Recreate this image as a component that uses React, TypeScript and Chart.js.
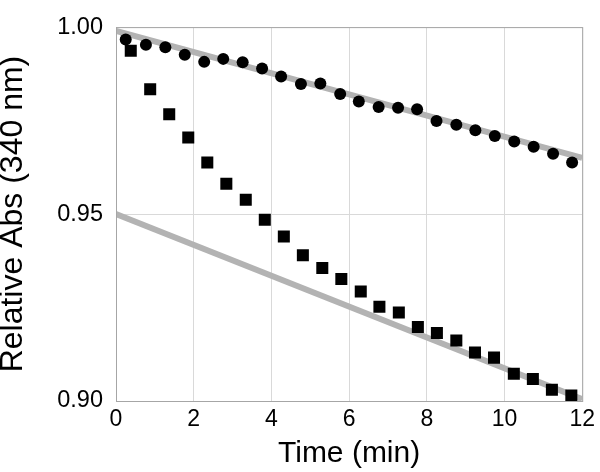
import React, { useEffect, useRef } from "react";
import { Chart, registerables } from "chart.js";

Chart.register(...registerables);

const circleTimes = [0.25, 0.77, 1.27, 1.77, 2.27, 2.76, 3.26, 3.76, 4.25, 4.76, 5.26, 5.77, 6.25, 6.76, 7.26, 7.75, 8.25, 8.76, 9.25, 9.75, 10.25, 10.75, 11.25, 11.74];
const circleValues = [0.9967, 0.9953, 0.9946, 0.9926, 0.9907, 0.9915, 0.9906, 0.9889, 0.9868, 0.9848, 0.9849, 0.9821, 0.9801, 0.9786, 0.9784, 0.978, 0.9749, 0.9739, 0.9724, 0.9709, 0.9694, 0.968, 0.9661, 0.9638];

const squareTimes = [0.38, 0.88, 1.37, 1.86, 2.35, 2.84, 3.34, 3.83, 4.32, 4.81, 5.31, 5.8, 6.3, 6.78, 7.28, 7.77, 8.26, 8.76, 9.24, 9.73, 10.24, 10.73, 11.22, 11.72];
const squareValues = [0.9937, 0.9834, 0.9767, 0.9705, 0.9638, 0.9581, 0.9538, 0.9485, 0.944, 0.939, 0.9356, 0.9326, 0.9293, 0.9252, 0.9237, 0.9198, 0.9182, 0.9162, 0.913, 0.9116, 0.9073, 0.9059, 0.903, 0.9015];

const fitTimes = [0, 12];
const fitCircle = [0.999, 0.965];
const fitSquare = [0.95, 0.9005];

const xTitle = "Time (min)";
const yTitle = "Relative Abs (340 nm)";

const pts = (xs: number[], ys: number[]) => xs.map((x, i) => ({ x, y: ys[i] }));

const framePlugin = {
  id: "frame",
  afterDraw(chart: any) {
    const { ctx, chartArea } = chart;
    ctx.save();
    ctx.strokeStyle = "#a6a6a6";
    ctx.lineWidth = 1;
    ctx.strokeRect(chartArea.left + 0.5, chartArea.top + 0.5, chartArea.right - chartArea.left, chartArea.bottom - chartArea.top);
    ctx.restore();
  },
};

export default function App() {
  const ref = useRef<HTMLCanvasElement>(null);
  useEffect(() => {
    const font = "'Liberation Sans', Arial, sans-serif";
    const chart = new Chart(ref.current!, {
      type: "scatter",
      data: {
        datasets: [
          {
            label: "circles",
            data: pts(circleTimes, circleValues),
            pointStyle: "circle",
            pointRadius: 6,
            backgroundColor: "#000",
            borderColor: "#000",
            borderWidth: 0,
            order: 0,
          },
          {
            label: "squares",
            data: pts(squareTimes, squareValues),
            pointStyle: "rect",
            pointRadius: 8.5,
            backgroundColor: "#000",
            borderColor: "#000",
            borderWidth: 0,
            order: 0,
          },
          {
            label: "fit1",
            data: pts(fitTimes, fitCircle),
            showLine: true,
            pointRadius: 0,
            borderColor: "#b3b3b3",
            borderWidth: 6,
            order: 1,
          },
          {
            label: "fit2",
            data: pts(fitTimes, fitSquare),
            showLine: true,
            pointRadius: 0,
            borderColor: "#b3b3b3",
            borderWidth: 6,
            order: 1,
          },
        ],
      },
      options: {
        animation: false,
        responsive: false,
        maintainAspectRatio: false,
        layout: { padding: { top: 14, right: 14, left: 0, bottom: 0 } },
        plugins: { legend: { display: false }, tooltip: { enabled: false } },
        scales: {
          x: {
            type: "linear",
            min: 0,
            max: 12,
            ticks: {
              stepSize: 2,
              color: "#000",
              padding: 5,
              font: { family: font, size: 23 },
            },
            grid: { color: "#d9d9d9", drawTicks: false },
            border: { color: "#a6a6a6" },
            title: {
              display: true,
              text: xTitle,
              color: "#000",
              font: { family: font, size: 30 },
              padding: { top: 0, bottom: 0 },
            },
            afterFit: (s: any) => {
              s.height = 71;
            },
          },
          y: {
            type: "linear",
            min: 0.9,
            max: 1.0,
            ticks: {
              stepSize: 0.05,
              color: "#000",
              padding: 13,
              font: { family: font, size: 23.5 },
              callback: (v: any) => Number(v).toFixed(2),
            },
            grid: { color: "#d9d9d9", drawTicks: false },
            border: { color: "#a6a6a6" },
            title: {
              display: true,
              text: yTitle,
              color: "#000",
              font: { family: font, size: 32, lineHeight: 0.85 },
              padding: { top: 0, bottom: 0 },
            },
            afterFit: (s: any) => {
              s.width = 116;
            },
          },
        },
      },
      plugins: [framePlugin],
    });
    return () => chart.destroy();
  }, []);
  return (
    <div style={{ position: "absolute", left: 0, top: 0, width: 600, height: 472 }}>
      <canvas ref={ref} width={600} height={472} />
    </div>
  );
}
